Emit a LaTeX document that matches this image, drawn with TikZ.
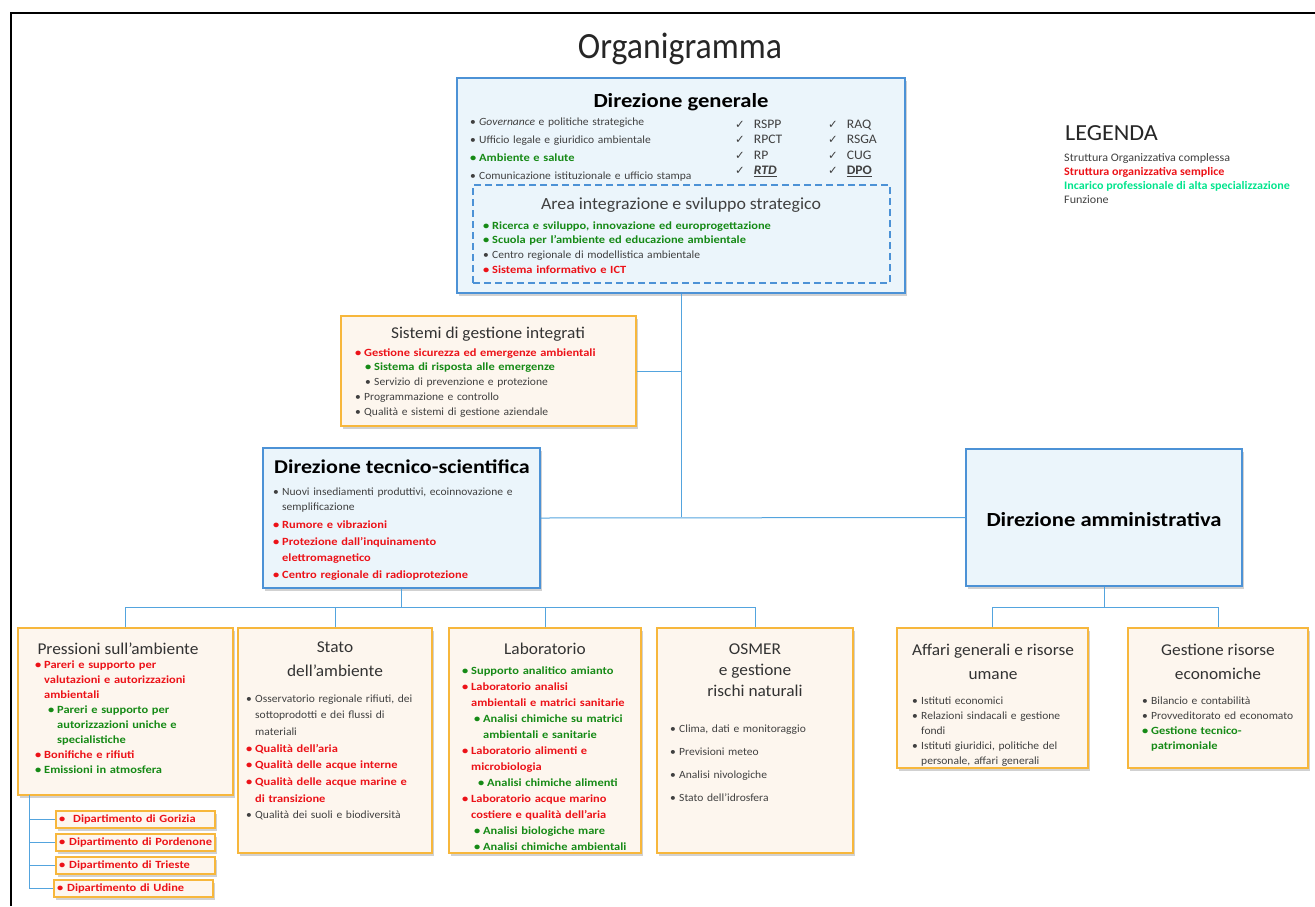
\documentclass[tikz,border=0pt]{standalone}
\usepackage{fontspec}
\setmainfont{Carlito}[FakeStretch=1.05]
\newfontfamily\bwide{Carlito}[FakeStretch=1.13]
\newfontfamily\symfont{DejaVu Sans}
\usetikzlibrary{shadows}

\definecolor{dgrey}{RGB}{64,64,64}
\definecolor{ored}{RGB}{236,18,24}
\definecolor{ogreen}{RGB}{22,138,22}
\definecolor{oaqua}{RGB}{0,228,140}
\definecolor{oblue}{RGB}{76,146,214}
\definecolor{bluefill}{RGB}{235,245,251}
\definecolor{oorange}{RGB}{247,183,60}
\definecolor{orangefill}{RGB}{253,246,238}
\definecolor{olink}{RGB}{84,164,222}

% bullet items: [indent]{style}{text}
\newcommand{\bul}[3][0pt]{\par\noindent\hspace*{#1}\hangindent=\dimexpr#1+9pt\relax\hangafter=1{#2\makebox[9pt][l]{\textbullet}#3}}
\newcommand{\pitem}[2][0pt]{\bul[#1]{\relax}{#2}}
\newcommand{\ritem}[2][0pt]{\bul[#1]{\color{ored}\bwide\bfseries}{#2}}
\newcommand{\gitem}[2][0pt]{\bul[#1]{\color{ogreen}\bwide\bfseries}{#2}}
\newcommand{\chk}{{\symfont\fontsize{11.5}{10}\selectfont ✓}\hspace{9pt}}

\begin{document}
\begin{tikzpicture}[x=1pt, y=-1pt,
  shd/.style={drop shadow={shadow xshift=2pt, shadow yshift=-2.5pt, opacity=.3, fill=black!60}},
  bluebox/.style={draw=oblue, fill=bluefill, line width=1.2pt, inner sep=0pt, shd},
  orgbox/.style={draw=oorange, fill=orangefill, line width=1.2pt, inner sep=0pt, shd},
  dept/.style={orgbox, minimum width=159, minimum height=17, text width=153, align=left,
    inner xsep=3pt, font=\fontsize{11}{13}\selectfont\bwide\bfseries, text=ored},
  link/.style={draw=olink, line width=1pt},
  txt/.style={inner sep=0pt, anchor=base west, text width=#1, align=left, text=dgrey},
  ttl/.style={inner sep=0pt, anchor=base, align=center, text=black!80, font=\fontsize{16.5}{24}\selectfont},
  bttl/.style={ttl, text=black, font=\fontsize{20}{22}\selectfont\bwide\bfseries}]

\useasboundingbox (0,0) rectangle (1315,906);
\draw[line width=1.5pt] (11,906) -- (11,13) -- (1315,13);
\node[inner sep=0pt, anchor=base, text=black!85, font=\fontsize{37}{40}\selectfont] (title) at (680,58) {\scalebox{0.87}[1]{Organigramma}};

% legend
\node[inner sep=0pt, anchor=base west, text=black!85, font=\fontsize{23}{26}\selectfont] (leg) at (1065,140.5) {LEGENDA};
\node[inner sep=0pt, anchor=base west, align=left, font=\fontsize{11.5}{14}\selectfont] (legT) at (1064,203)
  {\textcolor{dgrey}{Struttura Organizzativa complessa}\\
   \textcolor{ored}{\bfseries Struttura organizzativa semplice}\\
   \textcolor{oaqua}{\bfseries Incarico professionale di alta specializzazione}\\
   \textcolor{dgrey}{Funzione}};

% Direzione generale
\node[bluebox, minimum width=448, minimum height=215] (dg) at (681,185.5) {};
\node[bttl] (dgT) at (681,107) {Direzione generale};
\node[txt=262, font=\fontsize{11}{18.3}\selectfont] (dgL) at (470,106.7)
  {\pitem{\textit{Governance} e politiche strategiche}
   \pitem{Ufficio legale e giuridico ambientale}
   \gitem{Ambiente e salute}
   \pitem{Comunicazione istituzionale e ufficio stampa}\par};
\node[inner sep=0pt, anchor=base west, align=left, text=dgrey, font=\fontsize{13}{15.4}\selectfont] (chkA) at (735,174.5)
  {\chk RSPP\\ \chk RPCT\\ \chk RP\\ \chk\underline{\textbf{\textit{RTD}}}};
\node[inner sep=0pt, anchor=base west, align=left, text=dgrey, font=\fontsize{13}{15.4}\selectfont] (chkB) at (828,174.5)
  {\chk RAQ\\ \chk RSGA\\ \chk CUG\\ \chk\underline{\textbf{DPO}}};
\node[draw=oblue, dashed, dash pattern=on 7pt off 4pt, line width=1.2pt, inner sep=0pt,
  minimum width=417, minimum height=98] (area) at (681.5,234) {};
\node[ttl, text=dgrey, font=\fontsize{17}{18}\selectfont] (areaT) at (681,209) {Area integrazione e sviluppo strategico};
\node[txt=400, font=\fontsize{11}{14.7}\selectfont] (areaL) at (483,214.3)
  {\gitem{Ricerca e sviluppo, innovazione ed europrogettazione}
   \gitem{Scuola per l’ambiente ed educazione ambientale}
   \pitem{Centro regionale di modellistica ambientale}
   \ritem{Sistema informativo e ICT}\par};

% Sistemi di gestione integrati
\node[orgbox, minimum width=295, minimum height=110] (sgi) at (488.5,371) {};
\node[ttl] (sgiT) at (488,338) {Sistemi di gestione integrati};
\node[txt=280, font=\fontsize{11}{14.8}\selectfont] (sgiL) at (355,341.2)
  {\ritem{Gestione sicurezza ed emergenze ambientali}
   \gitem[10pt]{Sistema di risposta alle emergenze}
   \pitem[10pt]{Servizio di prevenzione e protezione}
   \pitem{Programmazione e controllo}
   \pitem{Qualità e sistemi di gestione aziendale}\par};

% Direzione tecnico-scientifica
\node[bluebox, minimum width=277, minimum height=140] (dts) at (401.5,518) {};
\node[bttl, font=\fontsize{19.5}{22}\selectfont\bwide\bfseries] (dtsT) at (402,473) {Direzione tecnico-scientifica};
\node[txt=262, font=\fontsize{11}{15.5}\selectfont] (dtsL) at (273,479.5)
  {\pitem{Nuovi insediamenti produttivi, ecoinnovazione e\newline semplificazione}\par\vspace{2pt}
   \ritem{Rumore e vibrazioni}\par\vspace{2pt}
   \ritem{Protezione dall’inquinamento\newline elettromagnetico}\par\vspace{2pt}
   \ritem{Centro regionale di radioprotezione}\par};

% Direzione amministrativa
\node[bluebox, minimum width=276, minimum height=137] (dam) at (1104,517.5) {};
\node[bttl] (damT) at (1104,526) {Direzione amministrativa};

% Pressioni sull'ambiente
\node[orgbox, minimum width=215, minimum height=167] (pra) at (125.5,711.5) {};
\node[ttl] (praT) at (118,654) {Pressioni sull’ambiente};
\node[txt=195, font=\fontsize{11}{15}\selectfont] (praL) at (35,653)
  {\ritem{Pareri e supporto per\newline valutazioni e autorizzazioni\newline ambientali}
   \gitem[13pt]{Pareri e supporto per\newline autorizzazioni uniche e\newline specialistiche}
   \ritem{Bonifiche e rifiuti}
   \gitem{Emissioni in atmosfera}\par};

% Stato dell'ambiente
\node[orgbox, minimum width=194, minimum height=225] (sta) at (335,740.5) {};
\node[ttl] (staT) at (335,676) {Stato\\dell’ambiente};
\node[txt=182, font=\fontsize{11}{16.7}\selectfont] (staL) at (246,685.3)
  {\pitem{Osservatorio regionale rifiuti, dei\newline sottoprodotti e dei flussi di\newline materiali}
   \ritem{Qualità dell’aria}
   \ritem{Qualità delle acque interne}
   \ritem{Qualità delle acque marine e\newline di transizione}
   \pitem{Qualità dei suoli e biodiversità}\par};

% Laboratorio
\node[orgbox, minimum width=192, minimum height=225] (lab) at (545,740.5) {};
\node[ttl] (labT) at (545,654) {Laboratorio};
\node[txt=178, font=\fontsize{11}{16}\selectfont] (labL) at (462,658)
  {\gitem{Supporto analitico amianto}
   \ritem{Laboratorio analisi\newline ambientali e matrici sanitarie}
   \gitem[12pt]{Analisi chimiche su matrici\newline ambientali e sanitarie}
   \ritem{Laboratorio alimenti e\newline microbiologia}
   \gitem[16pt]{Analisi chimiche alimenti}
   \ritem{Laboratorio acque marino\newline costiere e qualità dell’aria}
   \gitem[12pt]{Analisi biologiche mare}
   \gitem[12pt]{Analisi chimiche ambientali}\par};

% OSMER
\node[orgbox, minimum width=196, minimum height=225] (osm) at (755,740.5) {};
\node[ttl, font=\fontsize{16.5}{21}\selectfont] (osmT) at (755,696) {OSMER\\e gestione\\rischi naturali};
\node[txt=180, font=\fontsize{11}{23}\selectfont] (osmL) at (670,709)
  {\pitem{Clima, dati e monitoraggio}
   \pitem{Previsioni meteo}
   \pitem{Analisi nivologiche}
   \pitem{Stato dell’idrosfera}\par};

% Affari generali e risorse umane
\node[orgbox, minimum width=191, minimum height=140] (agr) at (992.5,698) {};
\node[ttl] (agrT) at (993,679) {Affari generali e risorse\\umane};
\node[txt=178, font=\fontsize{11}{15}\selectfont] (agrL) at (912,689)
  {\pitem{Istituti economici}
   \pitem{Relazioni sindacali e gestione\newline fondi}
   \pitem{Istituti giuridici, politiche del\newline personale, affari generali}\par};

% Gestione risorse economiche
\node[orgbox, minimum width=180, minimum height=140] (grc) at (1218,698) {};
\node[ttl] (grcT) at (1218,679) {Gestione risorse\\economiche};
\node[txt=165, font=\fontsize{11}{15}\selectfont] (grcL) at (1142,689)
  {\pitem{Bilancio e contabilità}
   \pitem{Provveditorato ed economato}
   \gitem{Gestione tecnico-\newline patrimoniale}\par};

% Dipartimenti
\node[dept] (gor) at (135.5,819.5) {\mbox{\textbullet\hspace{8pt}Dipartimento di Gorizia}};
\node[dept] (por) at (135.5,842.5) {\mbox{\textbullet\hspace{4pt}Dipartimento di Pordenone}};
\node[dept] (tri) at (135.5,865.5) {\mbox{\textbullet\hspace{4pt}Dipartimento di Trieste}};
\node[dept] (udi) at (133.5,888.5) {\mbox{\textbullet\hspace{4pt}Dipartimento di Udine}};

% connectors
\coordinate (hub) at (681,517);
\coordinate (busT) at (401.5,607);
\coordinate (busA) at (1104,607);
\coordinate (dspine) at (29,795);
\draw[link] (dg.south) -- (hub);
\draw[link] (sgi.east) -- (sgi.east -| hub);
\draw[link] (dts.east) -- (dam.west);
\draw[link] (dts.south) -- (busT);
\draw[link] (pra.north) |- (busT);
\draw[link] (sta.north) |- (busT);
\draw[link] (lab.north) |- (busT);
\draw[link] (osm.north) |- (busT);
\draw[link] (dam.south) -- (busA);
\draw[link] (agr.north) |- (busA);
\draw[link] (grc.north) |- (busA);
\draw[link] (dspine) |- (gor.west);
\draw[link] (dspine) |- (por.west);
\draw[link] (dspine) |- (tri.west);
\draw[link] (dspine) |- (udi.west);
\end{tikzpicture}
\end{document}
